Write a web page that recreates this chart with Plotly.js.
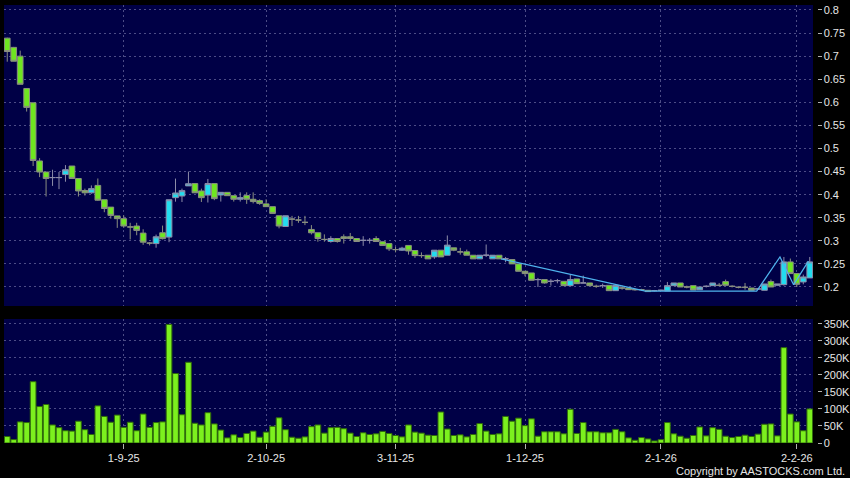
<!DOCTYPE html>
<html>
<head>
<meta charset="utf-8">
<script src="https://cdn.plot.ly/plotly-3.0.1.min.js"></script>
<style>
  html, body { margin: 0; padding: 0; background: #000; }
  #chart { width: 850px; height: 478px; }
</style>
</head>
<body>
<div id="chart"></div>
<script>
// ---- Data (one entry per trading day, oldest first) ----
const open = [
  0.739, 0.719, 0.700, 0.630, 0.599, 0.473, 0.449, 0.437, 0.437, 0.4435,
  0.462, 0.435, 0.409, 0.404, 0.420, 0.389, 0.373, 0.354, 0.348, 0.330,
  0.332, 0.3167, 0.295, 0.294, 0.3174, 0.308, 0.3935, 0.397, 0.419, 0.424,
  0.408, 0.399, 0.424, 0.3993, 0.405, 0.3978, 0.390, 0.398, 0.390, 0.387,
  0.380, 0.374, 0.3543, 0.331, 0.347, 0.345, 0.340, 0.3246, 0.3174, 0.303,
  0.2985, 0.305, 0.3087, 0.3087, 0.305, 0.301, 0.301, 0.305, 0.298, 0.294,
  0.281, 0.2797, 0.290, 0.279, 0.268, 0.2688, 0.2652, 0.2797, 0.2688, 0.2848,
  0.276, 0.2761, 0.2688, 0.2609, 0.2688, 0.2609, 0.2688, 0.261, 0.2594, 0.250,
  0.234, 0.2304, 0.216, 0.216, 0.2123, 0.2138, 0.2123, 0.2029, 0.2174, 0.2087,
  0.2087, 0.2014, 0.2029, 0.2036, 0.192, 0.1978, 0.1978, 0.1942, 0.1942, 0.1928,
  0.192, 0.1928, 0.1913, 0.2029, 0.2087, 0.200, 0.2029, 0.1942, 0.2014, 0.2029,
  0.2036, 0.2116, 0.2014, 0.1993, 0.1993, 0.1978, 0.1957, 0.1928, 0.2116, 0.2036,
  0.2051, 0.2543, 0.229, 0.2109, 0.2196
];
const high = [
  0.740, 0.720, 0.712, 0.630, 0.599, 0.479, 0.449, 0.454, 0.449, 0.464,
  0.462, 0.435, 0.413, 0.420, 0.435, 0.389, 0.373, 0.354, 0.355, 0.339,
  0.339, 0.325, 0.297, 0.3135, 0.333, 0.389, 0.4348, 0.413, 0.450, 0.424,
  0.413, 0.434, 0.424, 0.405, 0.405, 0.3978, 0.405, 0.405, 0.405, 0.390,
  0.390, 0.374, 0.3543, 0.3543, 0.354, 0.354, 0.354, 0.334, 0.3174, 0.314,
  0.310, 0.305, 0.314, 0.317, 0.305, 0.310, 0.306, 0.310, 0.298, 0.294,
  0.287, 0.287, 0.290, 0.279, 0.275, 0.2688, 0.2797, 0.2797, 0.3116, 0.2848,
  0.2848, 0.281, 0.2688, 0.2688, 0.292, 0.2688, 0.2688, 0.265, 0.2594, 0.250,
  0.234, 0.2304, 0.2196, 0.216, 0.2174, 0.2174, 0.2123, 0.2268, 0.2174, 0.2246,
  0.2087, 0.205, 0.2072, 0.2036, 0.2036, 0.2029, 0.1978, 0.1960, 0.1960, 0.1928,
  0.1935, 0.1942, 0.2109, 0.2087, 0.2087, 0.2029, 0.2029, 0.200, 0.2036, 0.2087,
  0.2087, 0.216, 0.2036, 0.2014, 0.2087, 0.1978, 0.1978, 0.2065, 0.216, 0.2065,
  0.265, 0.2616, 0.229, 0.2268, 0.265
];
const low = [
  0.688, 0.689, 0.639, 0.580, 0.462, 0.438, 0.396, 0.419, 0.412, 0.428,
  0.435, 0.396, 0.398, 0.402, 0.3865, 0.362, 0.348, 0.328, 0.328, 0.303,
  0.312, 0.2913, 0.290, 0.285, 0.303, 0.297, 0.3848, 0.384, 0.419, 0.404,
  0.384, 0.383, 0.388, 0.385, 0.3978, 0.385, 0.385, 0.380, 0.381, 0.378,
  0.374, 0.3594, 0.327, 0.331, 0.332, 0.339, 0.334, 0.3138, 0.298, 0.298,
  0.296, 0.296, 0.294, 0.300, 0.298, 0.289, 0.294, 0.2975, 0.290, 0.278,
  0.275, 0.278, 0.270, 0.263, 0.263, 0.2609, 0.261, 0.2652, 0.2688, 0.2775,
  0.270, 0.2688, 0.2609, 0.2609, 0.265, 0.2609, 0.2609, 0.2536, 0.250, 0.234,
  0.2232, 0.2145, 0.200, 0.2072, 0.2029, 0.208, 0.2029, 0.2029, 0.2072, 0.2087,
  0.2029, 0.198, 0.198, 0.192, 0.192, 0.1942, 0.1942, 0.1920, 0.1920, 0.190,
  0.1905, 0.1913, 0.1913, 0.2029, 0.200, 0.1971, 0.1935, 0.1942, 0.199, 0.2029,
  0.2014, 0.2036, 0.199, 0.1971, 0.1942, 0.1928, 0.1935, 0.1928, 0.200, 0.2036,
  0.203, 0.229, 0.200, 0.2058, 0.2196
];
const close = [
  0.710, 0.689, 0.639, 0.589, 0.474, 0.449, 0.435, 0.437, 0.437, 0.454,
  0.435, 0.408, 0.404, 0.413, 0.388, 0.370, 0.355, 0.348, 0.332, 0.330,
  0.3225, 0.297, 0.295, 0.3087, 0.3047, 0.389, 0.4036, 0.4087, 0.4237, 0.404,
  0.3935, 0.424, 0.3914, 0.405, 0.3978, 0.390, 0.3935, 0.390, 0.385, 0.381,
  0.374, 0.3594, 0.332, 0.3543, 0.347, 0.345, 0.340, 0.3174, 0.305, 0.303,
  0.305, 0.2985, 0.305, 0.305, 0.2985, 0.301, 0.301, 0.2985, 0.290, 0.2826,
  0.281, 0.284, 0.278, 0.268, 0.268, 0.2609, 0.2797, 0.2652, 0.2906, 0.2797,
  0.276, 0.2688, 0.2609, 0.2688, 0.2688, 0.2688, 0.2609, 0.261, 0.250, 0.234,
  0.229, 0.2145, 0.216, 0.2087, 0.2123, 0.2138, 0.2029, 0.216, 0.2072, 0.2087,
  0.2029, 0.2014, 0.2029, 0.192, 0.2036, 0.1978, 0.1942, 0.1942, 0.1942, 0.190,
  0.192, 0.1928, 0.2029, 0.2087, 0.200, 0.200, 0.1935, 0.200, 0.2014, 0.2087,
  0.2036, 0.2036, 0.2014, 0.1993, 0.1993, 0.1928, 0.1957, 0.2065, 0.200, 0.2065,
  0.2543, 0.229, 0.2058, 0.2217, 0.2543
];
const volume = [
  19000, 10000, 62000, 60000, 180000, 107000, 113000, 53000, 45000, 36000,
  35000, 64000, 39000, 25000, 109000, 78000, 61000, 82000, 46000, 61000,
  36000, 85000, 46000, 60000, 62000, 348000, 204000, 83000, 237000, 58000,
  53000, 89000, 56000, 38000, 15000, 24000, 16000, 28000, 35000, 17000,
  32000, 49000, 74000, 39000, 17000, 14000, 18000, 48000, 53000, 29000,
  45000, 46000, 42000, 29000, 19000, 30000, 25000, 27000, 34000, 28000,
  22000, 18000, 53000, 32000, 29000, 23000, 22000, 91000, 41000, 22000,
  24000, 18000, 25000, 57000, 35000, 25000, 27000, 78000, 64000, 73000,
  51000, 71000, 20000, 33000, 33000, 33000, 27000, 99000, 28000, 60000,
  33000, 33000, 30000, 30000, 40000, 33000, 15000, 8000, 16000, 12000,
  6000, 10000, 60000, 27000, 20000, 14000, 22000, 47000, 21000, 45000,
  40000, 20000, 16000, 19000, 23000, 19000, 26000, 55000, 56000, 21000,
  280000, 85000, 62000, 36000, 100000
];
// date tick labels and the trading-day index they fall on
const dateTickIndex = [18, 40, 60, 80, 101, 122];
const dateTickLabels = ['1-9-25', '2-10-25', '3-11-25', '1-12-25', '2-1-26', '2-2-26'];
// price axis ticks
const priceTicks = [0.2, 0.25, 0.3, 0.35, 0.4, 0.45, 0.5, 0.55, 0.6, 0.65, 0.7, 0.75, 0.8];
const priceTickLabels = ['0.2', '0.25', '0.3', '0.35', '0.4', '0.45', '0.5', '0.55', '0.6', '0.65', '0.7', '0.75', '0.8'];
// volume axis ticks
const volTicks = [0, 50000, 100000, 150000, 200000, 250000, 300000, 350000];
const volTickLabels = ['0', '50K', '100K', '150K', '200K', '250K', '300K', '350K'];
// zig-zag overlay line (day index, price)
const trendIdx = [76.3, 98.6, 115.8, 119.4, 121.5, 123.8];
const trendPrice = [0.261, 0.191, 0.191, 0.265, 0.205, 0.256];

// ---- Build chart ----
const x = open.map((_, i) => i);
const W = 850, H = 478;
const ml = 4, mr = 30, mt = 5, mb = 35;
const plotW = W - ml - mr;             // 816
const plotH = H - mt - mb;             // 438
const xDomEnd = (813 - ml) / plotW;
const yAxisPos = (816.5 - ml) / plotW;
const volTop = (443 - 319) / plotH;
const mainBottom = (443 - 306) / plotH;

const gridColor = '#4c4c86';
const gridDash = '2px,3px';
const tickFont = { family: 'Liberation Sans, Arial, sans-serif', size: 11, color: '#e6e6e6' };

const candles = {
  type: 'candlestick',
  x: x, open: open, high: high, low: low, close: close,
  xaxis: 'x', yaxis: 'y2',
  increasing: { fillcolor: '#22dcef', line: { color: '#8c8ca8', width: 1 } },
  decreasing: { fillcolor: '#6fe620', line: { color: '#8a8f80', width: 1 } },
  whiskerwidth: 0,
  hoverinfo: 'skip',
  showlegend: false
};
const trend = {
  type: 'scatter', mode: 'lines',
  x: trendIdx, y: trendPrice,
  xaxis: 'x', yaxis: 'y2',
  line: { color: '#4fb4ee', width: 1.2 },
  hoverinfo: 'skip', showlegend: false
};
const vol = {
  type: 'bar',
  x: x, y: volume,
  xaxis: 'x', yaxis: 'y',
  marker: { color: '#7cf01e', line: { color: '#2f6a0a', width: 1 } },
  hoverinfo: 'skip', showlegend: false
};

const layout = {
  width: W, height: H,
  margin: { l: ml, r: mr, t: mt, b: mb, pad: 0 },
  paper_bgcolor: '#000000',
  plot_bgcolor: '#000046',
  showlegend: false,
  bargap: 0.12,
  boxgap: 0.12,
  boxgroupgap: 0,
  xaxis: {
    domain: [0, xDomEnd],
    range: [-0.5, 124.5],
    anchor: 'y',
    rangeslider: { visible: false },
    tickmode: 'array', tickvals: dateTickIndex, ticktext: dateTickLabels,
    ticks: 'outside', ticklen: 5, tickcolor: '#b0b0b0', tickwidth: 1,
    tickfont: tickFont,
    showgrid: true, gridcolor: gridColor, griddash: gridDash, gridwidth: 1,
    zeroline: false, showline: false, fixedrange: true
  },
  yaxis: {
    domain: [0, volTop],
    range: [0, 364000],
    side: 'right', anchor: 'free', position: yAxisPos,
    tickmode: 'array', tickvals: volTicks, ticktext: volTickLabels,
    ticks: 'outside', ticklen: 4, tickcolor: '#b0b0b0', tickwidth: 1,
    tickfont: tickFont,
    showgrid: true, gridcolor: gridColor, griddash: gridDash, gridwidth: 1,
    zeroline: false, showline: false, fixedrange: true
  },
  yaxis2: {
    domain: [mainBottom, 1],
    range: [0.1588, 0.8108],
    side: 'right', anchor: 'free', position: yAxisPos,
    tickmode: 'array', tickvals: priceTicks, ticktext: priceTickLabels,
    ticks: 'outside', ticklen: 4, tickcolor: '#b0b0b0', tickwidth: 1,
    tickfont: tickFont,
    showgrid: true, gridcolor: gridColor, griddash: gridDash, gridwidth: 1,
    zeroline: false, showline: false, fixedrange: true
  },
  annotations: [{
    text: 'Copyright by AASTOCKS.com Ltd.',
    xref: 'paper', yref: 'paper',
    x: (847 - ml) / plotW, xanchor: 'right',
    y: -(471.5 - 443) / plotH, yanchor: 'middle',
    showarrow: false,
    font: { family: 'Liberation Sans, Arial, sans-serif', size: 11, color: '#e6e6e6' }
  }]
};

Plotly.newPlot('chart', [vol, candles, trend], layout, { staticPlot: true, displayModeBar: false });
</script>
</body>
</html>
